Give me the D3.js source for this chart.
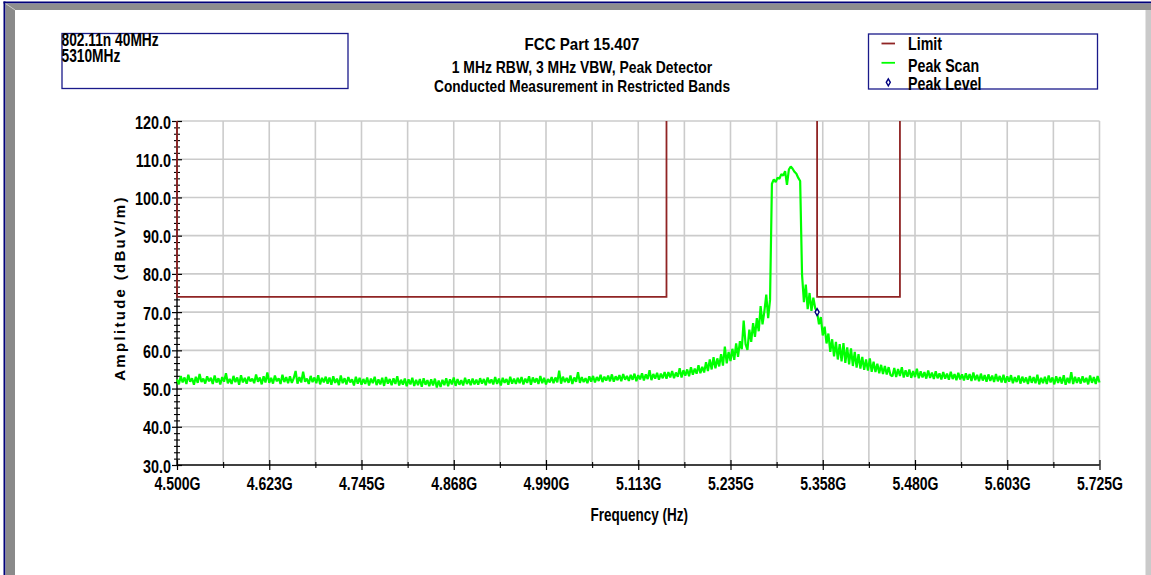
<!DOCTYPE html>
<html>
<head>
<meta charset="utf-8">
<script src="https://cdn.jsdelivr.net/npm/d3@7"></script>
<style>
  html, body { margin: 0; padding: 0; background: #fff; }
  svg { display: block; }
  .lbl { font-family: "Liberation Sans", Arial, sans-serif; font-weight: bold; fill: #000; }
</style>
</head>
<body>
<svg id="chart" width="1151" height="575"></svg>
<script>
// ---- chart text ----
const titleLines = ["FCC Part 15.407", "1 MHz RBW, 3 MHz VBW, Peak Detector", "Conducted Measurement in Restricted Bands"];
const infoLines = ["802.11n 40MHz", "5310MHz"];
const legendLabels = ["Limit", "Peak Scan", "Peak Level"];
const xAxisTitle = "Frequency (Hz)";
const yAxisTitle = "Amplitude (dBuV/m)";

// ---- axes (frequency in GHz, amplitude in dBuV/m) ----
const yTicks = [30, 40, 50, 60, 70, 80, 90, 100, 110, 120];
const xTickValues = [4.5, 4.6225, 4.745, 4.8675, 4.99, 5.1125, 5.235, 5.3575, 5.48, 5.6025, 5.725];
const xTickLabels = ["4.500G", "4.623G", "4.745G", "4.868G", "4.990G", "5.113G", "5.235G", "5.358G", "5.480G", "5.603G", "5.725G"];

// ---- limit lines for the restricted bands ----
const limitBands = [
  { start: 4.50, stop: 5.15, level: 74.0 },
  { start: 5.35, stop: 5.46, level: 74.0 }
];

// ---- peak level found in the restricted band ----
const peakLevel = { freq: 5.35, level: 70.0 };

// ---- peak scan sweep: start / step in GHz, one reading per sweep point ----
const sweepStart = 4.5;
const sweepStep = 0.0025;
const peakScan = [
  52.4, 51.1, 53.3, 51.6, 52.9, 51.2, 53.6, 51.8, 52.7, 51.0, 53.1, 51.5, 53.8, 51.7, 52.6, 51.3, 53.2, 51.9, 52.8, 51.2,
  53.4, 51.6, 52.7, 51.1, 53.0, 51.8, 54.0, 51.4, 52.5, 51.2, 53.3, 51.7, 52.9, 51.0, 53.5, 51.6, 52.8, 51.3, 53.1, 51.9,
  52.6, 51.4, 53.7, 51.8, 52.9, 51.1, 53.2, 51.6, 54.2, 51.5, 52.8, 51.3, 53.4, 51.9, 52.7, 51.2, 53.6, 51.7, 53.0, 51.4,
  53.2, 51.5, 52.7, 54.6, 51.3, 53.0, 51.6, 54.4, 51.8, 52.6, 51.2, 53.3, 51.7, 52.9, 51.4, 53.5, 51.1, 52.8, 51.6, 53.1,
  51.3, 52.9, 51.0, 53.2, 51.5, 52.6, 50.9, 53.4, 51.4, 52.7, 51.1, 53.0, 51.6, 52.4, 50.8, 53.1, 51.3, 52.8, 51.0, 52.5,
  51.2, 52.9, 50.8, 52.6, 51.4, 53.1, 50.9, 52.4, 51.1, 52.8, 50.7, 53.0, 51.3, 52.5, 50.9, 52.7, 51.2, 53.2, 50.8, 52.3,
  51.0, 52.6, 50.6, 52.4, 51.1, 52.8, 50.7, 52.3, 50.9, 52.5, 50.5, 52.7, 51.0, 52.2, 50.6, 52.4, 50.8, 52.6, 50.3, 52.1,
  50.4, 52.3, 50.9, 52.7, 50.6, 52.4, 51.1, 52.9, 50.7, 52.5, 51.0, 52.2, 50.8, 52.8, 51.2, 52.4, 50.9, 52.6, 51.1, 52.3,
  51.0, 52.7, 51.3, 52.5, 50.9, 52.9, 51.4, 52.4, 51.1, 53.0, 51.2, 52.6, 50.8, 52.8, 51.5, 52.5, 51.0, 53.1, 51.3, 52.6,
  51.2, 52.8, 51.4, 53.0, 51.1, 52.6, 51.5, 53.2, 51.0, 52.9, 51.6, 52.7, 51.2, 53.3, 51.4, 52.8, 51.1, 52.5, 51.6, 53.0,
  51.4, 52.9, 51.6, 54.7, 51.3, 53.1, 51.7, 52.8, 51.5, 53.4, 51.2, 52.9, 51.8, 54.3, 51.5, 53.0, 51.7, 52.7, 51.4, 53.2,
  51.8, 53.3, 51.6, 53.0, 52.0, 53.6, 51.7, 53.1, 52.1, 53.4, 51.9, 53.7, 51.8, 53.2, 52.2, 53.5, 51.9, 53.8, 52.3, 53.3,
  52.0, 53.6, 52.3, 53.9, 51.9, 53.5, 52.4, 54.0, 52.1, 53.7, 52.5, 54.8, 52.2, 53.8, 52.6, 54.1, 52.3, 53.9, 52.7, 54.3,
  52.6, 54.3, 52.9, 54.6, 52.7, 54.2, 53.1, 55.3, 52.9, 54.8, 53.4, 55.0, 53.2, 55.6, 53.6, 55.2, 53.9, 56.1, 54.0, 55.7,
  54.2, 56.9, 54.6, 57.6, 55.0, 58.2, 55.3, 57.9, 55.8, 59.0, 56.0, 61.0, 56.6, 59.6, 57.2, 60.4, 57.5, 61.8, 58.3, 62.4,
  60.3, 67.8, 61.6, 60.1, 65.4, 62.2, 67.1, 63.5, 68.4, 65.0, 71.6, 66.8, 70.2, 74.6, 68.4, 73.2, 103.6, 104.7, 104.0, 105.2,
  104.9, 106.1, 105.7, 106.9, 103.3, 107.3, 108.1, 107.5, 106.7, 106.2, 105.1, 104.3, 79.8, 72.6, 77.2, 70.8, 75.0, 70.3, 73.8, 71.0,
  70.0, 66.8, 68.7, 63.9, 66.2, 61.8, 64.4, 59.6, 62.9, 58.4, 62.2, 57.6, 61.6, 57.1, 61.9, 56.7, 60.8, 56.3, 60.5, 55.9,
  59.6, 55.5, 59.0, 55.2, 58.3, 54.9, 57.6, 54.7, 57.9, 54.4, 57.0, 54.3, 56.5, 54.0, 56.2, 53.8, 55.9, 53.7, 55.6, 53.5,
  53.2, 55.4, 53.0, 55.1, 53.3, 55.6, 52.9, 54.8, 53.1, 55.0, 52.8, 54.6, 53.0, 55.2, 52.7, 54.5, 52.9, 54.3, 52.6, 54.7,
  52.8, 54.2, 52.5, 54.5, 52.7, 54.0, 52.4, 54.3, 52.6, 53.9, 52.3, 54.4, 52.5, 53.8, 52.2, 54.1, 52.4, 53.7, 52.1, 54.0,
  52.3, 53.8, 52.0, 54.2, 52.2, 53.6, 51.9, 53.9, 52.1, 53.5, 51.8, 53.7, 52.0, 53.4, 51.7, 53.8, 51.9, 53.3, 51.6, 53.6,
  51.5, 53.2, 51.8, 53.5, 51.4, 53.0, 51.7, 53.4, 51.3, 53.1, 51.6, 52.9, 51.2, 53.3, 51.5, 53.0, 51.4, 53.6, 51.1, 52.8,
  51.4, 53.1, 51.2, 53.4, 51.6, 52.9, 51.1, 53.2, 51.5, 53.0, 51.3, 53.5, 51.0, 52.8, 51.4, 54.3, 51.2, 53.1, 51.5, 52.9,
  51.3, 53.2, 51.6, 52.8, 51.1, 53.4, 51.5, 53.0, 51.2, 53.3, 51.6
];

// ---- colours ----
const colLimit = "#902424";
const colScan = "#00ff00";
const colMarker = "#000080";
const colGrid = "#cbcbcb";
const colBoxEdge = "#1a1a8a";

// ---- layout ----
const W = 1151, H = 575;
const plot = { left: 177, right: 1099.5, top: 121, bottom: 465 };
const FS = 18;          // label font size
const FS_TITLE = 16.5;  // title font size

// squeeze text horizontally to a condensed width (anchor is kept by the browser)
function condense(sel, k) {
  sel.each(function () {
    const w = this.getComputedTextLength();
    d3.select(this).attr("textLength", (w * k).toFixed(1)).attr("lengthAdjust", "spacingAndGlyphs");
  });
}

const svg = d3.select("#chart");

// window frame: navy rule with grey bevelled bands
const frame = svg.append("g");
frame.append("rect").attr("x", 3.5).attr("y", 1.5).attr("width", W).attr("height", 2).attr("fill", "#00007a");
frame.append("rect").attr("x", 3.5).attr("y", 1.5).attr("width", 2).attr("height", H).attr("fill", "#00007a");
frame.append("polygon").attr("points", `5.5,3.5 ${W},3.5 ${W},10 15,10`).attr("fill", "#8e8e8e");
frame.append("polygon").attr("points", `5.5,3.5 15,10 15,${H} 5.5,${H}`).attr("fill", "#8a8a8a");
frame.append("line").attr("x1", 5.5).attr("y1", 3.5).attr("x2", 15).attr("y2", 10).attr("stroke", "#c4c4c4").attr("stroke-width", 1);
frame.append("rect").attr("x", 1145.5).attr("y", 10).attr("width", W - 1145.5).attr("height", H - 10).attr("fill", "#cacaca");

// scales
const x = d3.scaleLinear().domain([xTickValues[0], xTickValues[xTickValues.length - 1]]).range([plot.left, plot.right]);
const y = d3.scaleLinear().domain([yTicks[0], yTicks[yTicks.length - 1]]).range([plot.bottom, plot.top]);

// half-step positions between major frequency ticks
const xMinor = d3.pairs(xTickValues).map(([a, b]) => (a + b) / 2);
const xGridVals = xTickValues.concat(xMinor).slice(1);
// five minor amplitude ticks in each decade step
const yMinor = [];
d3.pairs(yTicks).forEach(([a, b]) => { for (let k = 1; k < 6; k++) yMinor.push(a + (b - a) * k / 6); });

// grid
const grid = svg.append("g");
grid.selectAll("line.h").data(yTicks.slice(1)).join("line")
  .attr("x1", plot.left).attr("x2", plot.right)
  .attr("y1", d => y(d)).attr("y2", d => y(d))
  .attr("stroke", colGrid).attr("stroke-width", 1.6);
grid.selectAll("line.v").data(xGridVals).join("line")
  .attr("x1", d => x(d)).attr("x2", d => x(d))
  .attr("y1", plot.top).attr("y2", plot.bottom)
  .attr("stroke", colGrid).attr("stroke-width", 1.6);

// x axis
const gx = svg.append("g").attr("transform", `translate(0,${plot.bottom})`)
  .call(d3.axisBottom(x).tickValues(xTickValues).tickFormat((d, i) => xTickLabels[i]).tickSize(5).tickPadding(0));
gx.select(".domain").attr("stroke", "#000").attr("stroke-width", 1.4).attr("d", `M${plot.left},0H${plot.right}`);
gx.selectAll(".tick line").attr("y1", -5).attr("y2", 5).attr("stroke", "#000").attr("stroke-width", 1.2);
gx.selectAll(".tick text").attr("class", "lbl").attr("font-family", null).attr("font-size", FS).attr("fill", "#000")
  .attr("y", 25).attr("dy", null).call(condense, 0.78);
const gxm = svg.append("g").attr("transform", `translate(0,${plot.bottom})`)
  .call(d3.axisBottom(x).tickValues(xMinor).tickFormat("").tickSize(3));
gxm.select(".domain").remove();
gxm.selectAll(".tick line").attr("y1", -3).attr("y2", 3).attr("stroke", "#000").attr("stroke-width", 1.1);

// y axis
const gy = svg.append("g").attr("transform", `translate(${plot.left},0)`)
  .call(d3.axisLeft(y).tickValues(yTicks).tickFormat(d3.format(".1f")).tickSize(5).tickPadding(0));
gy.select(".domain").attr("stroke", "#000").attr("stroke-width", 1.4).attr("d", `M0,${plot.top}V${plot.bottom}`);
gy.selectAll(".tick line").attr("x1", -5).attr("x2", 5).attr("stroke", "#000").attr("stroke-width", 1.2);
gy.selectAll(".tick text").attr("class", "lbl").attr("font-family", null).attr("font-size", FS).attr("fill", "#000")
  .attr("x", -6).attr("dy", 7).call(condense, 0.8);
const gym = svg.append("g").attr("transform", `translate(${plot.left},0)`)
  .call(d3.axisLeft(y).tickValues(yMinor).tickFormat("").tickSize(3));
gym.select(".domain").remove();
gym.selectAll(".tick line").attr("x1", -3).attr("x2", 3).attr("stroke", "#000").attr("stroke-width", 1.1);

// limit lines: up from the top of the scale, across at the limit, back up
const limitPath = d3.line().x(d => x(d[0])).y(d => y(d[1]));
const yMax = yTicks[yTicks.length - 1];
svg.append("g").selectAll("path").data(limitBands).join("path")
  .attr("d", b => limitPath([[b.start, yMax], [b.start, b.level], [b.stop, b.level], [b.stop, yMax]]))
  .attr("fill", "none").attr("stroke", colLimit).attr("stroke-width", 1.8);

// peak scan trace
const scanPts = peakScan.map((v, i) => [sweepStart + i * sweepStep, v]);
svg.append("path").datum(scanPts)
  .attr("d", d3.line().x(d => x(d[0])).y(d => y(d[1])))
  .attr("fill", "none").attr("stroke", colScan).attr("stroke-width", 2.2).attr("stroke-linejoin", "bevel");

// peak level marker
const diamond = d3.symbol().type(d3.symbolDiamond).size(14);
svg.append("path").attr("d", diamond())
  .attr("transform", `translate(${x(peakLevel.freq)},${y(peakLevel.level)})`)
  .attr("fill", "#fff").attr("stroke", colMarker).attr("stroke-width", 1.4);

// titles
const titleSqueeze = [0.915, 0.843, 0.83];
svg.append("g").selectAll("text").data(titleLines).join("text")
  .attr("class", "lbl").attr("font-size", FS_TITLE).attr("text-anchor", "middle")
  .attr("x", 582).attr("y", (d, i) => [50, 73.4, 91.7][i]).text(d => d)
  .each(function (d, i) { condense(d3.select(this), titleSqueeze[i]); });

// info box (top left)
svg.append("rect").attr("x", 62).attr("y", 33.5).attr("width", 286).attr("height", 55)
  .attr("fill", "none").attr("stroke", colBoxEdge).attr("stroke-width", 1.3);
const info = svg.append("text").attr("class", "lbl").attr("font-size", FS);
info.selectAll("tspan").data(infoLines).join("tspan")
  .attr("x", 61.5).attr("y", (d, i) => 46 + i * 16.3).text(d => d)
  .call(condense, 0.765);

// legend
const lg = svg.append("g");
lg.append("rect").attr("x", 868.5).attr("y", 34).attr("width", 229).attr("height", 55)
  .attr("fill", "none").attr("stroke", colBoxEdge).attr("stroke-width", 1.3);
const rowY = [43.5, 62.8, 82.3];
lg.append("line").attr("x1", 881.5).attr("x2", 895).attr("y1", rowY[0]).attr("y2", rowY[0]).attr("stroke", colLimit).attr("stroke-width", 1.8);
lg.append("line").attr("x1", 881.5).attr("x2", 895).attr("y1", rowY[1]).attr("y2", rowY[1]).attr("stroke", colScan).attr("stroke-width", 1.8);
lg.append("path").attr("d", diamond()).attr("transform", `translate(888.3,${rowY[2]})`)
  .attr("fill", "#fff").attr("stroke", colMarker).attr("stroke-width", 1.4);
lg.selectAll("text").data(legendLabels).join("text")
  .attr("class", "lbl").attr("font-size", FS)
  .attr("x", 908).attr("y", (d, i) => [50, 71.5, 90][i]).text(d => d)
  .call(condense, 0.79);

// axis titles
svg.append("text").attr("class", "lbl").attr("font-size", FS).attr("text-anchor", "middle")
  .attr("x", (plot.left + plot.right) / 2 + 1).attr("y", 520.5).text(xAxisTitle)
  .call(condense, 0.75);
svg.append("text").attr("class", "lbl").attr("font-size", 15).attr("letter-spacing", 2.3)
  .attr("text-anchor", "middle")
  .attr("transform", `translate(125,${(plot.top + plot.bottom) / 2 - 5}) rotate(-90)`)
  .text(yAxisTitle);
</script>
</body>
</html>
